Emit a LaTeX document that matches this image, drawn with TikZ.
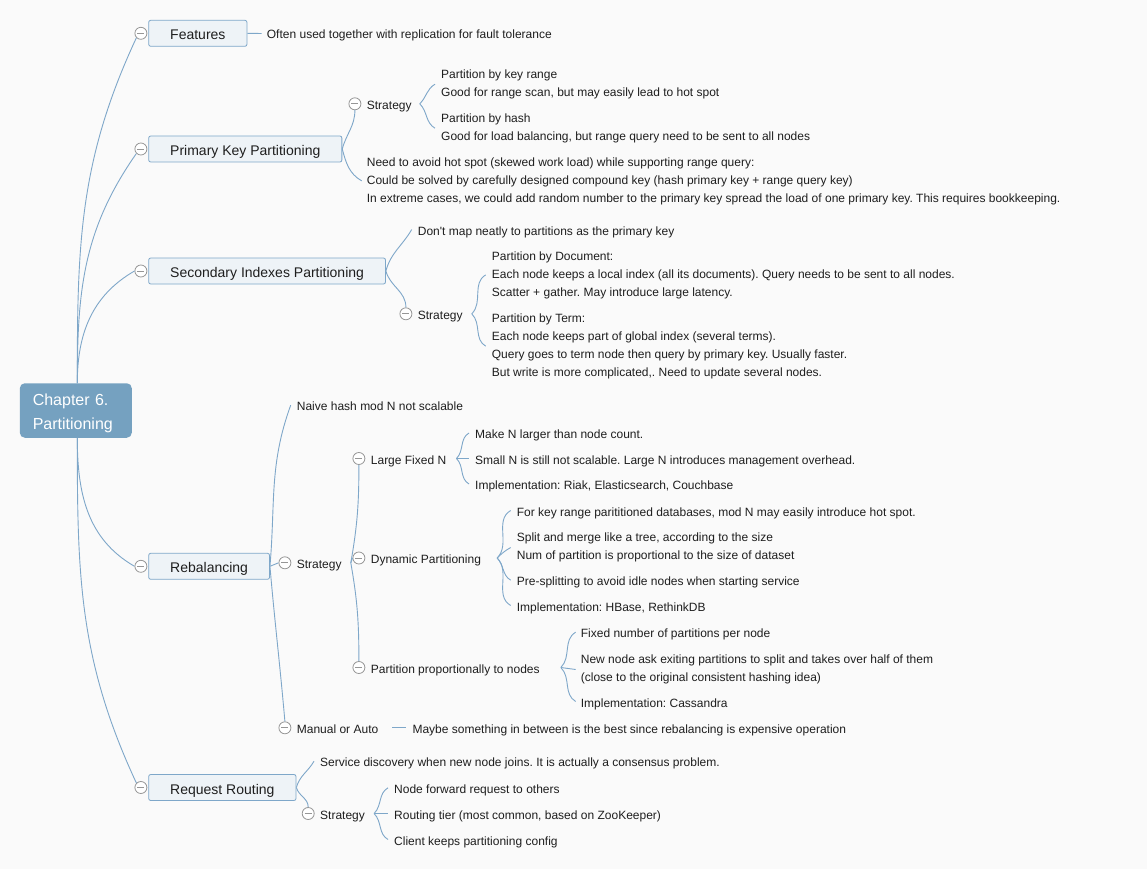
\documentclass[tikz,border=0pt]{standalone}
\usepackage{fontspec}
\setmainfont{Liberation Sans}[Ligatures=TeXOff]
\usetikzlibrary{positioning}
\definecolor{paper}{RGB}{250,250,250}
\definecolor{ink}{RGB}{30,30,30}
\definecolor{edge}{RGB}{126,167,201}
\definecolor{boxfill}{RGB}{238,243,247}
\definecolor{rootfill}{RGB}{117,161,192}
\definecolor{knob}{RGB}{150,150,150}
\frenchspacing

\begin{document}
\begin{tikzpicture}[x=1pt, y=-1pt, text=ink, font=\fontsize{12}{18}\selectfont]
	\tikzstyle{box} = [draw=edge, fill=boxfill, line width=0.8, rounded corners=2, anchor=west, minimum height=26, inner xsep=21.5, inner ysep=0, text height=13, text depth=0, font=\fontsize{14}{17}\selectfont];
	\tikzstyle{txt} = [anchor=west, inner sep=0, text height=11, text depth=0];
	\tikzstyle{blk} = [anchor=west, inner sep=0, align=left];
	\tikzstyle{fold} = [circle, draw=knob, fill=white, line width=0.8, minimum size=12, inner sep=0, path picture={\draw[knob, line width=0.8] ([xshift=2.5]path picture bounding box.west) -- ([xshift=-2.5]path picture bounding box.east);}];
	\tikzstyle{link} = [draw=edge, line width=0.9];
	\tikzstyle{rise} = [out=45, in=-150];
	\tikzstyle{fall} = [out=-45, in=150];

	\fill[paper] (0,0) rectangle (1147,869);
	\useasboundingbox (0,0) rectangle (1147,869);

	\node[fill=rootfill, rounded corners=5, minimum width=111.5, minimum height=54.5, text width=86, text height=16.5, inner xsep=13, align=left, text=white, font=\fontsize{16}{24}\selectfont] (root) at (75.8,410.5) {Chapter 6.\\Partitioning};

	% Features
	\node[box] (features) at (148.3,33.3) {Features};
	\node[txt] (fault) at (266.7,33.5) {Often used together with replication for fault tolerance};

	% Primary key
	\node[box] (primary) at (148.3,149) {Primary Key Partitioning};
	\node[txt] (pkStrat) at (366.7,103.8) {Strategy};
	\node[blk] (keyRange) at (441,84.2) {Partition by key range\\Good for range scan, but may easily lead to hot spot};
	\node[blk] (hash) at (441,128.2) {Partition by hash\\Good for load balancing, but range query need to be sent to all nodes};
	\node[blk] (hotSpot) at (366.7,180.9) {Need to avoid hot spot (skewed work load) while supporting range query:\\Could be solved by carefully designed compound key (hash primary key + range query key)\\In extreme cases, we could add random number to the primary key spread the load of one primary key. This requires bookkeeping.};

	% Secondary indexes
	\node[box] (secondary) at (148.3,271) {Secondary Indexes Partitioning};
	\node[txt] (dontMap) at (417.7,229.5) {Don't map neatly to partitions as the primary key};
	\node[txt] (siStrat) at (417.7,313.8) {Strategy};
	\node[blk] (byDoc) at (491.7,274.9) {Partition by Document:\\Each node keeps a local index (all its documents). Query needs to be sent to all nodes.\\Scatter + gather. May introduce large latency.};
	\node[blk] (byTerm) at (491.7,346.2) {Partition by Term:\\Each node keeps part of global index (several terms).\\Query goes to term node then query by primary key. Usually faster.\\But write is more complicated,. Need to update several nodes.};

	% Rebalancing
	\node[box] (rebal) at (148.3,566.3) {Rebalancing};
	\node[txt] (naive) at (296.7,405.2) {Naive hash mod N not scalable};
	\node[txt] (rebStrat) at (296.7,562.8) {Strategy};
	\node[txt] (manual) at (296.7,727.8) {Manual or Auto};
	\node[txt] (maybe) at (412.3,727.8) {Maybe something in between is the best since rebalancing is expensive operation};
	\node[txt] (largeN) at (370.7,458.5) {Large Fixed N};
	\node[txt] (makeN) at (475,433) {Make N larger than node count.};
	\node[txt] (smallN) at (475,458.5) {Small N is still not scalable. Large N introduces management overhead.};
	\node[txt] (riak) at (475,484) {Implementation: Riak, Elasticsearch, Couchbase};
	\node[txt] (dynamic) at (370.7,558) {Dynamic Partitioning};
	\node[txt] (modN) at (516.7,510.5) {For key range parititioned databases, mod N may easily introduce hot spot.};
	\node[blk] (split) at (516.7,547.5) {Split and merge like a tree, according to the size\\Num of partition is proportional to the size of dataset};
	\node[txt] (preSplit) at (516.7,580.2) {Pre-splitting to avoid idle nodes when starting service};
	\node[txt] (hbase) at (516.7,605.5) {Implementation: HBase, RethinkDB};
	\node[txt] (propNodes) at (370.7,667.5) {Partition proportionally to nodes};
	\node[txt] (fixedNum) at (580.7,632.2) {Fixed number of partitions per node};
	\node[blk] (newNode) at (580.7,669.5) {New node ask exiting partitions to split and takes over half of them\\(close to the original consistent hashing idea)};
	\node[txt] (cassandra) at (580.7,701.5) {Implementation: Cassandra};

	% Request routing
	\node[box] (routing) at (148.3,787.5) {Request Routing};
	\node[txt] (discovery) at (320,761.2) {Service discovery when new node joins. It is actually a consensus problem.};
	\node[txt] (rrStrat) at (320,813.5) {Strategy};
	\node[txt] (forward) at (394,787.8) {Node forward request to others};
	\node[txt] (tier) at (394,813.5) {Routing tier (most common, based on ZooKeeper)};
	\node[txt] (client) at (394,839.5) {Client keeps partitioning config};

	% fold knobs
	\node[fold, left=1pt of features] (features-o) {};
	\node[fold, left=1pt of primary] (primary-o) {};
	\node[fold, left=1pt of secondary] (secondary-o) {};
	\node[fold, left=1pt of rebal] (rebal-o) {};
	\node[fold, left=1pt of routing] (routing-o) {};
	\node[fold, left=5.4pt of pkStrat] (pkStrat-o) {};
	\node[fold, left=5.4pt of siStrat] (siStrat-o) {};
	\node[fold, left=5.4pt of rebStrat] (rebStrat-o) {};
	\node[fold, left=5.4pt of manual] (manual-o) {};
	\node[fold, left=5.4pt of largeN] (largeN-o) {};
	\node[fold, left=5.4pt of dynamic] (dynamic-o) {};
	\node[fold, left=5.4pt of propNodes] (propNodes-o) {};
	\node[fold, left=5.4pt of rrStrat] (rrStrat-o) {};

	% root branches
	\draw[link] ([xshift=1.5]root.north) to[out=90,in=-115] (features-o.south west);
	\draw[link] ([xshift=1.5]root.north) to[out=90,in=-125] (primary-o.south west);
	\draw[link] ([xshift=1.5]root.north) to[out=90,in=-150] (secondary-o.west);
	\draw[link] ([xshift=1.5]root.south) to[out=-90,in=150] (rebal-o.west);
	\draw[link] ([xshift=1.5]root.south) to[out=-90,in=115] (routing-o.north west);

	\draw[link] (features.east) -- ([xshift=-5]fault.west);

	\draw[link] (primary.east) to[out=75,in=-90] (pkStrat-o.south);
	\draw[link] (primary.east) to[out=-75,in=150] ([xshift=-5]hotSpot.west);
	\draw[link] ([xshift=8]pkStrat.east) to[rise] ([xshift=-6]keyRange.west);
	\draw[link] ([xshift=8]pkStrat.east) to[fall] ([xshift=-6]hash.west);

	\draw[link] (secondary.east) to[out=75,in=-120] ([xshift=-6]dontMap.west);
	\draw[link] (secondary.east) to[out=-75,in=90] (siStrat-o.north);
	\draw[link] ([xshift=9]siStrat.east) to[rise] ([xshift=-6]byDoc.west);
	\draw[link] ([xshift=9]siStrat.east) to[fall] ([xshift=-6]byTerm.west);

	\draw[link] (rebal.east) to[out=85,in=-110] ([xshift=-6]naive.west);
	\draw[link] (rebal.east) -- (rebStrat-o.west);
	\draw[link] (rebal.east) to[out=-85,in=95] (manual-o.north);
	\draw[link] ([xshift=14]manual.east) -- ([xshift=-6]maybe.west);
	\draw[link] ([xshift=9]rebStrat.east) to[out=80,in=-90] (largeN-o.south);
	\draw[link] ([xshift=9]rebStrat.east) -- (dynamic-o.west);
	\draw[link] ([xshift=9]rebStrat.east) to[out=-80,in=90] (propNodes-o.north);
	\draw[link] ([xshift=10]largeN.east) to[rise] ([xshift=-6]makeN.west);
	\draw[link] ([xshift=10]largeN.east) -- ([xshift=-6]smallN.west);
	\draw[link] ([xshift=10]largeN.east) to[fall] ([xshift=-6]riak.west);
	\draw[link] ([xshift=16]dynamic.east) to[rise] ([xshift=-6]modN.west);
	\draw[link] ([xshift=16]dynamic.east) to[rise] ([xshift=-6]split.west);
	\draw[link] ([xshift=16]dynamic.east) to[fall] ([xshift=-6]preSplit.west);
	\draw[link] ([xshift=16]dynamic.east) to[fall] ([xshift=-6]hbase.west);
	\draw[link] ([xshift=21]propNodes.east) to[rise] ([xshift=-5]fixedNum.west);
	\draw[link] ([xshift=21]propNodes.east) -- ([xshift=-5]newNode.west);
	\draw[link] ([xshift=21]propNodes.east) to[fall] ([xshift=-5]cassandra.west);

	\draw[link] (routing.east) to[out=75,in=-120] ([xshift=-6]discovery.west);
	\draw[link] (routing.east) to[out=-75,in=90] (rrStrat-o.north);
	\draw[link] ([xshift=9]rrStrat.east) to[rise] ([xshift=-6]forward.west);
	\draw[link] ([xshift=9]rrStrat.east) -- ([xshift=-6]tier.west);
	\draw[link] ([xshift=9]rrStrat.east) to[fall] ([xshift=-6]client.west);
\end{tikzpicture}
\end{document}
